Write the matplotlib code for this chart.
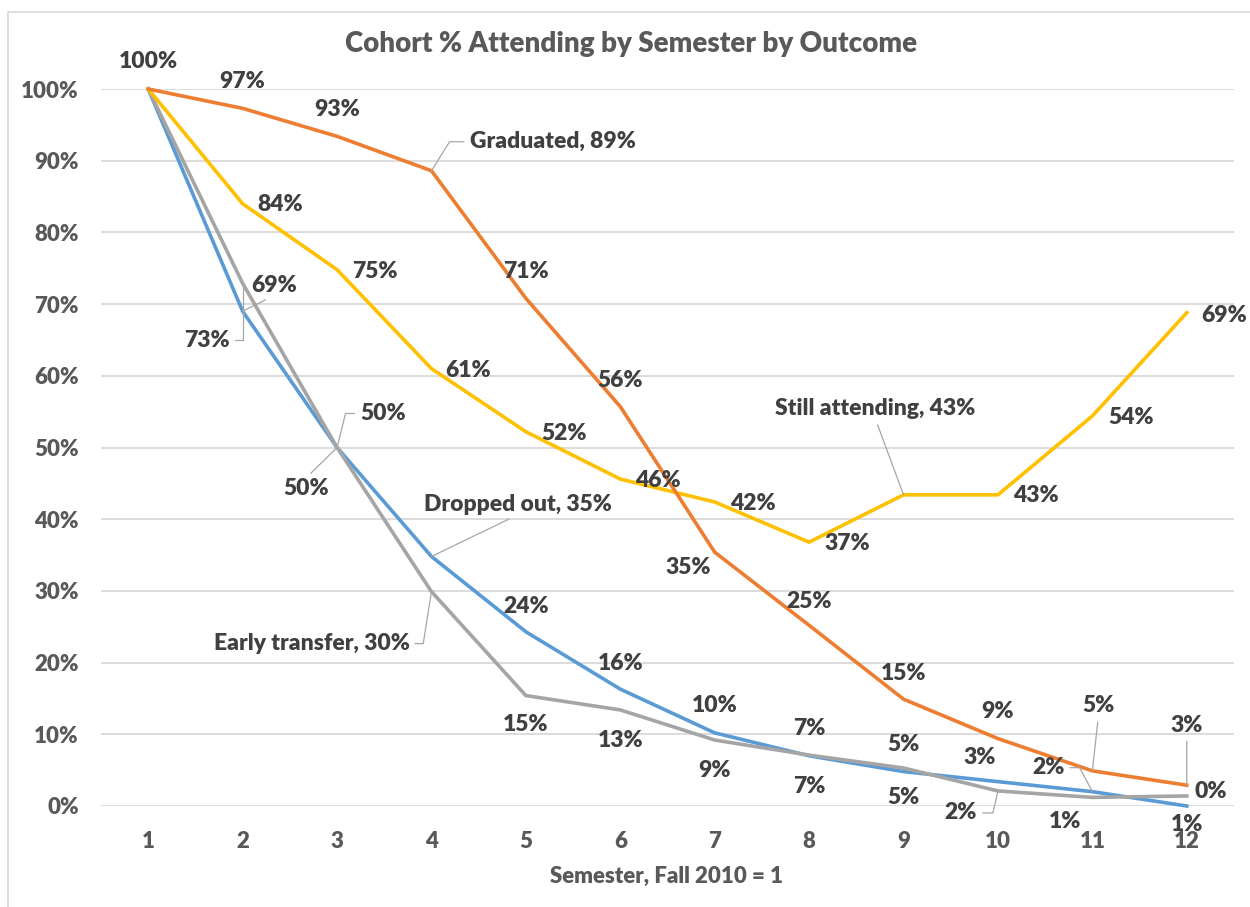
import matplotlib
matplotlib.use("Agg")
import matplotlib.pyplot as plt
from matplotlib.lines import Line2D

plt.rcParams['font.family'] = ['Lato', 'DejaVu Sans']
plt.rcParams['font.weight'] = 'bold'

# ---------------- data ----------------
semesters = [1, 2, 3, 4, 5, 6, 7, 8, 9, 10, 11, 12]
graduated = [100, 97.3, 93.4, 88.6, 70.8, 55.7, 35.4, 25.2, 14.9, 9.4, 4.9, 2.9]
still_attending = [100, 84.0, 74.8, 61.0, 52.2, 45.6, 42.4, 36.8, 43.4, 43.4, 54.4, 68.8]
dropped_out = [100, 69.0, 50.0, 34.8, 24.3, 16.3, 10.2, 7.0, 4.8, 3.4, 2.0, 0.0]
early_transfer = [100, 72.9, 50.0, 29.9, 15.4, 13.4, 9.2, 7.1, 5.3, 2.1, 1.2, 1.4]
y_ticks = [0, 10, 20, 30, 40, 50, 60, 70, 80, 90, 100]
title = "Cohort % Attending by Semester by Outcome"
x_title = "Semester, Fall 2010 = 1"

# ---------------- layout / style ----------------
W, H = 1250, 907
PX = 0.72  # points per pixel at dpi 100

ST = 'arc3,rad=0'
layout = {
    "Graduated": dict(
        offs=[(0, -27), (0, -27), (0, -27), (121, -29), (0, -27), (0, -26),
              (-27, 15), (0, -24), (0, -26), (0, -27), (6, -65), (0, -60)],
        named={3},
        leaders={3: ((0, 0.5), 'angle,angleA=0,angleB=58,rad=0'),
                 10: ((0.5, 0), ST), 11: ((0.5, 0), ST)}),
    "Still attending": dict(
        offs=[None, (38, 1), (38, 2), (37, 2), (38, 2), (38, 1), (38, 2),
              (38, 1), (-28, -86), (38, 1), (39, 2), (37, 3)],
        named={8},
        leaders={8: ((0.5, 0), ST)}),
    "Dropped out": dict(
        offs=[None, (31, -26), (46, -34), (86, -52), (0, -25), (0, -26),
              (0, -27), (0, -27), (0, -27), (-18, -24), (-44, -24), (24, -15)],
        named={3},
        leaders={1: ((0.5, 0), ST),
                 2: ((0, 0.5), 'angle,angleA=0,angleB=76,rad=0'),
                 3: ((0.5, 0), ST),
                 10: ((1, 0.5), 'angle,angleA=0,angleB=118,rad=0')}),
    "Early transfer": dict(
        offs=[None, (-36, 57), (-31, 41), (-120, 52), (0, 29), (0, 31),
              (0, 30), (0, 31), (0, 30), (-37, 22), (-27, 24), (0, 29)],
        named={3},
        leaders={1: ((1, 0.5), 'angle,angleA=0,angleB=90,rad=0'),
                 2: ((0.5, 1), ST),
                 3: ((1, 0.5), 'angle,angleA=0,angleB=81,rad=0'),
                 9: ((1, 0.5), 'angle,angleA=0,angleB=77,rad=0')}),
}

series = [
    ("Dropped out", dropped_out, "#5B9BD5", 3),
    ("Early transfer", early_transfer, "#A5A5A5", 4),
    ("Still attending", still_attending, "#FFC000", 5),
    ("Graduated", graduated, "#ED7D31", 6),
]

LABEL_COLOR = "#404040"
AXIS_COLOR = "#595959"
GRID_COLOR = "#D9D9D9"
LEADER_COLOR = "#A6A6A6"
FS = 16.5
FS_TICK = 16
WEIGHT = 'heavy'

fig = plt.figure(figsize=(W / 100, H / 100), dpi=100)
ax = fig.add_axes([101 / W, 1 - 806 / H, (1234 - 101) / W, (806 - 89) / H])

for name, vals, color, z in series:
    ax.plot(semesters, vals, color=color, lw=2.6, zorder=z, clip_on=False,
            solid_joinstyle='miter')

for name, vals, color, z in series:
    spec = layout[name]
    for i, (x, v) in enumerate(zip(semesters, vals)):
        off = spec["offs"][i]
        if off is None:
            continue
        txt = f"{round(v):d}%"
        if i in spec["named"]:
            txt = f"{name}, {txt}"
        kw = {}
        if i in spec["leaders"]:
            relpos, cs = spec["leaders"][i]
            kw["arrowprops"] = dict(arrowstyle='-', color=LEADER_COLOR, lw=0.9,
                                    shrinkA=2, shrinkB=0, relpos=relpos,
                                    connectionstyle=cs)
        ax.annotate(txt, xy=(x, v), xytext=(off[0] * PX, -off[1] * PX),
                    textcoords='offset points', ha='center', va='center',
                    fontsize=FS, fontweight=WEIGHT, color=LABEL_COLOR,
                    zorder=10, annotation_clip=False, **kw)

ax.set_xlim(0.5, 12.5)
ax.set_ylim(0, 100)
ax.set_xticks(semesters)
ax.set_xticklabels([str(s) for s in semesters])
ax.set_yticks(y_ticks)
ax.set_yticklabels([f"{t}%" for t in y_ticks])
ax.tick_params(axis='both', length=0, labelsize=FS_TICK, labelcolor=AXIS_COLOR)
ax.tick_params(axis='y', pad=16)
ax.tick_params(axis='x', pad=18)
for lab in ax.get_xticklabels() + ax.get_yticklabels():
    lab.set_fontweight(WEIGHT)
ax.grid(axis='y', color=GRID_COLOR, lw=1.3, zorder=0)
ax.set_axisbelow(True)
for s in ax.spines.values():
    s.set_visible(False)

fig.text(631 / W, 1 - 44 / H, title, ha='center', va='center', fontsize=20,
         fontweight=WEIGHT, color=AXIS_COLOR)
fig.text(666 / W, 1 - 876 / H, x_title, ha='center', va='center', fontsize=16,
         fontweight=WEIGHT, color=AXIS_COLOR)

# chart-area border (top and left edges visible)
fig.add_artist(Line2D([7.5 / W, 7.5 / W, 1.0], [0.0, 1 - 11.5 / H, 1 - 11.5 / H],
                      transform=fig.transFigure, color=GRID_COLOR, lw=1.2))

fig.savefig("out.png", dpi=100)
